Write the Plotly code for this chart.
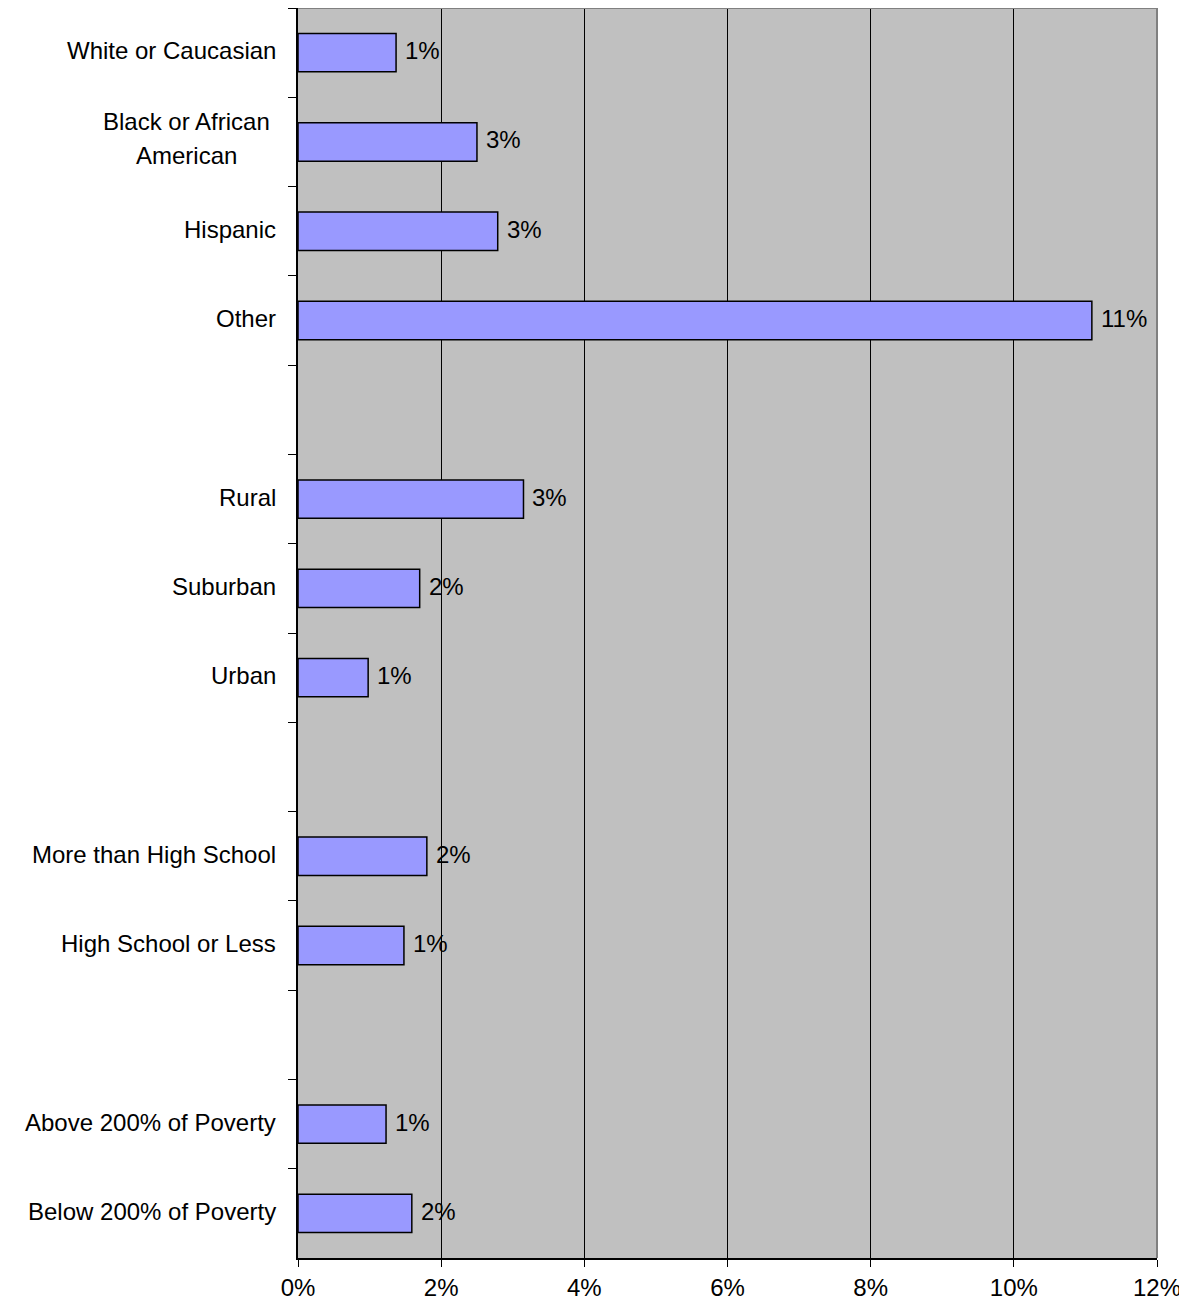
import plotly.graph_objects as go

# categories top to bottom; blank strings are the gaps between groups
categories = ["White or Caucasian", "Black or African American", "Hispanic", "Other", " ",
              "Rural", "Suburban", "Urban", "  ",
              "More than High School", "High School or Less", "   ",
              "Above 200% of Poverty", "Below 200% of Poverty"]
values = [1.37, 2.50, 2.79, 11.09, None,
          3.15, 1.70, 0.98, None,
          1.80, 1.48, None,
          1.23, 1.59]
value_labels = ["1%", "3%", "3%", "11%", "",
                "3%", "2%", "1%", "",
                "2%", "1%", "",
                "1%", "2%"]
x_ticks = [0, 2, 4, 6, 8, 10, 12]
x_tick_text = ["0%", "2%", "4%", "6%", "8%", "10%", "12%"]

font_family = "Liberation Sans, Arial, sans-serif"
fs = 24

fig = go.Figure(go.Bar(
    x=values, y=categories, orientation="h", width=0.43,
    marker=dict(color="#9999FF", line=dict(color="black", width=1.5)),
    hoverinfo="x+y",
))

annotations = []
for cat, v, lab in zip(categories, values, value_labels):
    if v is None:
        continue
    annotations.append(dict(x=v, y=cat, xref="x", yref="y", text=lab, showarrow=False,
                            xanchor="left", xshift=7, yshift=2,
                            font=dict(size=fs, color="black")))
    if cat == "Black or African American":
        annotations.append(dict(x=0, y=cat, xref="paper", yref="y", text="Black or African",
                                showarrow=False, xanchor="center", xshift=-112, yshift=20,
                                font=dict(size=fs, color="black")))
        annotations.append(dict(x=0, y=cat, xref="paper", yref="y", text="American",
                                showarrow=False, xanchor="center", xshift=-112, yshift=-14,
                                font=dict(size=fs, color="black")))
    else:
        annotations.append(dict(x=0, y=cat, xref="paper", yref="y", text=cat,
                                showarrow=False, xanchor="right", xshift=-20, yshift=2,
                                font=dict(size=fs, color="black")))

# page body adds an 8px margin, so the figure is sized to fit inside it
fig.update_layout(
    width=1179, height=1303,
    margin=dict(l=290, r=30, t=0, b=53),
    paper_bgcolor="white", plot_bgcolor="#C0C0C0",
    font=dict(family=font_family, size=fs, color="black"),
    showlegend=False,
    annotations=annotations,
    shapes=[
        dict(type="line", xref="paper", yref="paper", x0=0, x1=1, y0=1, y1=1,
             line=dict(color="#808080", width=2), layer="above"),
        dict(type="line", xref="paper", yref="paper", x0=1, x1=1, y0=0, y1=1,
             line=dict(color="#808080", width=2), layer="above"),
    ],
)
fig.update_xaxes(range=[0, 12], tickvals=x_ticks, ticktext=x_tick_text,
                 showgrid=True, gridcolor="black", gridwidth=1, zeroline=False,
                 showline=True, linecolor="black", linewidth=1.5,
                 ticks="outside", ticklen=7, tickcolor="black", automargin=False)
fig.update_yaxes(type="category", categoryorder="array", categoryarray=categories,
                 range=[13.5, -0.5], showticklabels=False, tickson="boundaries",
                 ticks="outside", ticklen=8, tickcolor="black", showgrid=False,
                 showline=True, linecolor="black", linewidth=1.5, zeroline=False)

fig.write_html("out.html")
